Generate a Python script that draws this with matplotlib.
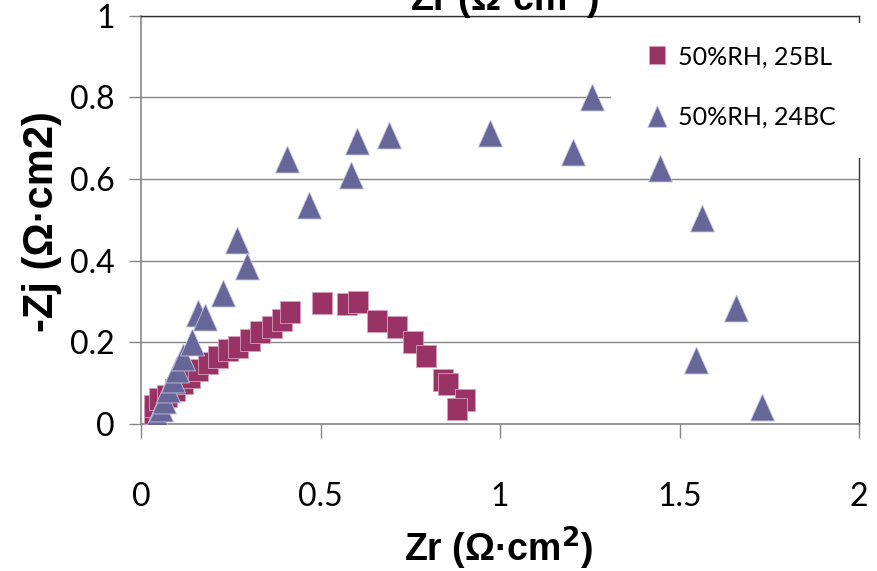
import matplotlib
matplotlib.use("Agg")
import matplotlib.pyplot as plt
from matplotlib.patches import Rectangle

# 50%RH, 25BL (cuadrados)
zr_25bl = [0.036, 0.036, 0.05, 0.072, 0.095, 0.118, 0.136, 0.16, 0.187, 0.215,
           0.243, 0.271, 0.304, 0.331, 0.364, 0.392, 0.415, 0.503, 0.573, 0.605,
           0.657, 0.712, 0.758, 0.794, 0.841, 0.855, 0.903, 0.881]
zj_25bl = [0.028, 0.045, 0.062, 0.068, 0.083, 0.10, 0.116, 0.132, 0.149, 0.165,
           0.181, 0.189, 0.206, 0.226, 0.238, 0.255, 0.275, 0.296, 0.293, 0.30,
           0.253, 0.237, 0.20, 0.167, 0.108, 0.098, 0.059, 0.038]

# 50%RH, 24BC (triangulos)
zr_24bc = [0.04, 0.045, 0.055, 0.065, 0.075, 0.088, 0.10, 0.118, 0.141, 0.16,
           0.178, 0.229, 0.267, 0.296, 0.408, 0.468, 0.586, 0.603, 0.692, 0.973,
           1.203, 1.257, 1.445, 1.563, 1.658, 1.546, 1.729]
zj_24bc = [0.008, 0.022, 0.04, 0.06, 0.085, 0.11, 0.135, 0.165, 0.20, 0.271,
           0.263, 0.32, 0.45, 0.388, 0.648, 0.536, 0.611, 0.693, 0.709, 0.713,
           0.667, 0.80, 0.626, 0.505, 0.285, 0.158, 0.042]

series_labels = ['50%RH, 25BL', '50%RH, 24BC']
xticks = [0, 0.5, 1, 1.5, 2]
xtick_labels = ['0', '0.5', '1', '1.5', '2']
yticks = [0, 0.2, 0.4, 0.6, 0.8, 1]
ytick_labels = ['0', '0.2', '0.4', '0.6', '0.8', '1']

# marcadores un poco mas altos que anchos, como en la imagen
sq = [(-0.45, -0.5), (0.45, -0.5), (0.45, 0.5), (-0.45, 0.5), (-0.45, -0.5)]
tri = [(0, 0.5), (-0.445, -0.5), (0.445, -0.5), (0, 0.5)]

fuente = ['Lato', 'DejaVu Sans']
fuente_b = ['Liberation Sans', 'DejaVu Sans']

fig = plt.figure(figsize=(8.77, 5.71), dpi=100)
ax = fig.add_axes([0.1608, 0.2574, 0.8187, 0.7151])

ax.plot(zr_25bl, zj_25bl, linestyle='none', marker=sq, markersize=16.5,
        color='#993366', markeredgecolor='#d8a0bc', markeredgewidth=0.6,
        label=series_labels[0], zorder=3)
ax.plot(zr_24bc, zj_24bc, linestyle='none', marker=tri, markersize=19.4,
        color='#666699', markeredgecolor='#c4c4e0', markeredgewidth=0.6,
        label=series_labels[1], zorder=3)

ax.set_xlim(0, 2)
ax.set_ylim(0, 1)
ax.set_xticks(xticks)
ax.set_xticklabels(xtick_labels, family=fuente, fontsize=23)
ax.set_yticks(yticks)
ax.set_yticklabels(ytick_labels, family=fuente, fontsize=23)
ax.tick_params(axis='x', direction='out', length=10, width=1, color='#868686', pad=32)
ax.tick_params(axis='y', direction='out', length=9, width=1, color='#868686', pad=10)

ax.grid(axis='y', color='#868686', linewidth=1)
ax.set_axisbelow(True)
for s in ['left', 'bottom']:
    ax.spines[s].set_color('#868686')
    ax.spines[s].set_linewidth(1.2)
for s in ['top', 'right']:
    ax.spines[s].set_color('#303030')
    ax.spines[s].set_linewidth(1)

# fondo blanco de la leyenda (tapa rejilla y borde derecho)
ax.add_patch(Rectangle((0.6546, 0.6515), 0.35, 0.3306, transform=ax.transAxes,
                       facecolor='white', edgecolor='none', zorder=2.8, clip_on=False))
ax.legend(loc='upper left', bbox_to_anchor=(0.7006, 0.928), frameon=False,
          prop={'family': fuente, 'size': 18}, markerscale=0.8,
          handlelength=1.0, handletextpad=0.35, labelspacing=1.5,
          borderpad=0, borderaxespad=0)

fig.text(62 / 877, 1 - 222 / 571, '-Zj (Ω·cm2)', rotation=90, ha='right', va='center',
         fontsize=30, fontweight='bold', family=fuente_b)
fig.text(499 / 877, 1 - 548 / 571, 'Zr (Ω·cm$^\\mathbf{2}$)', ha='center', va='center',
         fontsize=27, fontweight='bold', family=fuente_b)
# titulo cortado arriba (como en el original)
fig.text(505 / 877, 1 - 12 / 571, 'Zr (Ω·cm$^\\mathbf{2}$)', ha='center', va='baseline',
         fontsize=27, fontweight='bold', family=fuente_b)

fig.savefig('out.png', dpi=100)
